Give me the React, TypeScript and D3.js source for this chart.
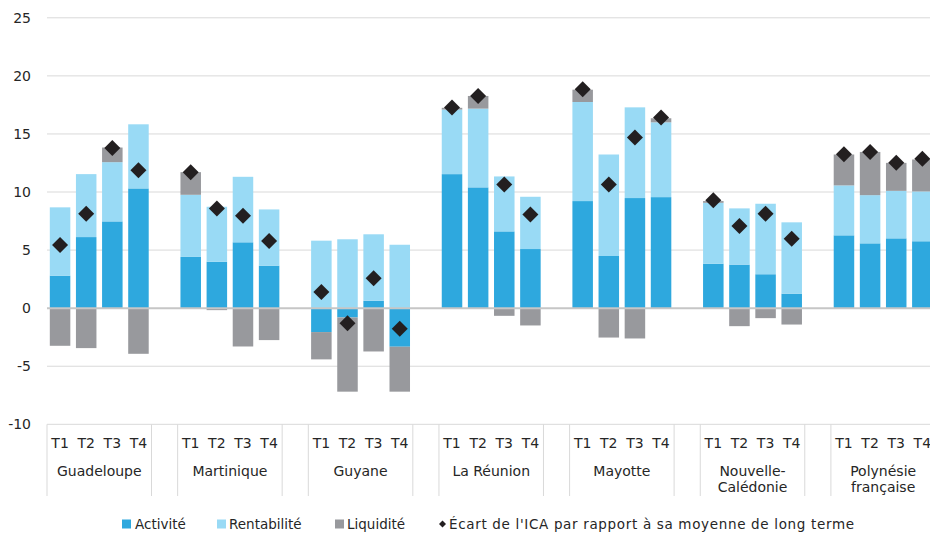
import React from "react";
import * as d3 from "d3";

const regions = [
  ["Guadeloupe"],
  ["Martinique"],
  ["Guyane"],
  ["La Réunion"],
  ["Mayotte"],
  ["Nouvelle-", "Calédonie"],
  ["Polynésie", "française"],
];
const quarters = ["T1", "T2", "T3", "T4"];

// one value per region x quarter, in region order
const activite = [2.8, 6.12, 7.47, 10.31, 4.41, 4.0, 5.67, 3.66, -2.06, -0.8, 0.63, -3.32, 11.54, 10.4, 6.61, 5.09, 9.22, 4.49, 9.48, 9.56, 3.83, 3.75, 2.92, 1.25, 6.27, 5.58, 6.01, 5.76];
const rentabilite = [5.88, 5.42, 5.1, 5.52, 5.35, 4.73, 5.64, 4.84, 5.81, 5.93, 5.73, 5.46, 5.56, 6.78, 4.73, 4.5, 8.53, 8.74, 7.81, 6.44, 5.24, 4.84, 6.07, 6.14, 4.3, 4.15, 4.09, 4.29];
const liquidite = [-3.24, -3.44, 1.26, -3.93, 1.95, -0.17, -3.3, -2.75, -2.35, -6.39, -3.73, -3.87, 0.15, 1.09, -0.66, -1.49, 1.06, -2.53, -2.61, 0.35, 0.15, -1.55, -0.86, -1.41, 2.66, 3.72, 2.41, 2.75];
const ecart = [5.44, 8.13, 13.8, 11.88, 11.71, 8.59, 7.96, 5.78, 1.4, -1.29, 2.58, -1.78, 17.27, 18.27, 10.65, 8.07, 18.84, 10.65, 14.69, 16.41, 9.3, 7.07, 8.13, 5.98, 13.26, 13.45, 12.51, 12.86];
const yTicks = [-10, -5, 0, 5, 10, 15, 20, 25];

const seriesNames = ["Activité", "Rentabilité", "Liquidité"];
const ecartLabel = "Écart de l'ICA par rapport à sa moyenne de long terme";
const colors = ["#2ea8de", "#99daf5", "#98999d"];

const W = 930;
const H = 533;
const font = "Verdana, 'DejaVu Sans', sans-serif";
const fs = 14;

// category slots: 4 quarters per region, with an empty slot between regions
const slots: string[] = [];
regions.forEach((r, i) => {
  quarters.forEach((q) => slots.push(`${i}|${q}`));
  if (i < regions.length - 1) slots.push(`gap${i}`);
});

const rows = slots
  .filter((s) => !s.startsWith("gap"))
  .map((s, i) => ({
    key: s,
    Activité: activite[i],
    Rentabilité: rentabilite[i],
    Liquidité: liquidite[i],
    ecart: ecart[i],
  }));

export default function App() {
  const left = 47;
  const step = 26.13;
  const x = d3
    .scaleBand()
    .domain(slots)
    .range([left, left + step * slots.length])
    .paddingInner(0.215)
    .paddingOuter(0.1075);

  const y = d3.scaleLinear().domain([-10, 25]).range([424.3, 17.8]);

  const stacked = d3
    .stack<any>()
    .keys(seriesNames)
    .offset(d3.stackOffsetDiverging)(rows);

  const bw = x.bandwidth();
  const gridRight = left + step * slots.length;
  const axisBottom = 496;
  const legY = 529;

  // group boundaries on the category axis
  const bounds: number[] = [];
  regions.forEach((r, i) => {
    const first = x(`${i}|T1`)! - (step - bw) / 2;
    bounds.push(first, first + step * 4);
  });

  const legend = [
    { kind: "sq", color: colors[0], label: seriesNames[0], sx: 122, tx: 135, len: 0 },
    { kind: "sq", color: colors[1], label: seriesNames[1], sx: 217, tx: 229, len: 0 },
    { kind: "sq", color: colors[2], label: seriesNames[2], sx: 335, tx: 347, len: 0 },
    { kind: "dm", color: "#231f20", label: ecartLabel, sx: 439, tx: 449, len: 405 },
  ];

  return (
    <svg
      width={W}
      height={H}
      style={{ position: "absolute", left: 0, top: 0, background: "#fff" }}
      fontFamily={font}
      fontSize={fs}
    >
      {yTicks.map((t) => (
        <g key={t}>
          {t !== 0 && (
            <line x1={left} x2={gridRight} y1={y(t)} y2={y(t)} stroke="#d9d9d9" strokeWidth={1} />
          )}
          <text x={31} y={y(t)} dy="0.36em" textAnchor="end" fill="#262626">
            {t}
          </text>
        </g>
      ))}

      {bounds.map((b, i) => (
        <line key={i} x1={b} x2={b} y1={y(-10)} y2={axisBottom} stroke="#d9d9d9" strokeWidth={1} />
      ))}

      {stacked.map((s, si) => (
        <g key={s.key} fill={colors[si]}>
          {s.map((d, i) => (
            <rect
              key={i}
              x={x(rows[i].key)}
              width={bw}
              y={y(Math.max(d[0], d[1]))}
              height={Math.abs(y(d[0]) - y(d[1]))}
            />
          ))}
        </g>
      ))}

      <line x1={left} x2={gridRight} y1={y(0)} y2={y(0)} stroke="#c6c6c6" strokeWidth={2} />

      {rows.map((r) => {
        const cx = x(r.key)! + bw / 2;
        const cy = y(r.ecart);
        const s = 8;
        return (
          <path
            key={r.key}
            d={`M${cx},${cy - s}L${cx + s},${cy}L${cx},${cy + s}L${cx - s},${cy}Z`}
            fill="#231f20"
          />
        );
      })}

      {rows.map((r) => (
        <text key={r.key} x={x(r.key)! + bw / 2} y={448} textAnchor="middle" fill="#262626">
          {r.key.split("|")[1]}
        </text>
      ))}

      {regions.map((lines, i) => {
        const cx = x(`${i}|T1`)! - (step - bw) / 2 + step * 2;
        return (
          <text key={i} x={cx} textAnchor="middle" fill="#262626">
            {lines.map((l, j) => (
              <tspan key={j} x={cx} y={476 + j * 16}>
                {l}
              </tspan>
            ))}
          </text>
        );
      })}

      {legend.map((l) => (
        <g key={l.label}>
          {l.kind === "sq" ? (
            <rect x={l.sx} y={legY - 9.5} width={9} height={9} fill={l.color} />
          ) : (
            <path
              d={`M${l.sx + 3.5},${legY - 8.5}L${l.sx + 7},${legY - 5}L${l.sx + 3.5},${legY - 1.5}L${l.sx},${legY - 5}Z`}
              fill={l.color}
            />
          )}
          <text
            x={l.tx}
            y={legY}
            fontSize={13.5}
            fill="#262626"
            textLength={l.len || undefined}
            lengthAdjust={l.len ? "spacing" : undefined}
          >
            {l.label}
          </text>
        </g>
      ))}
    </svg>
  );
}
